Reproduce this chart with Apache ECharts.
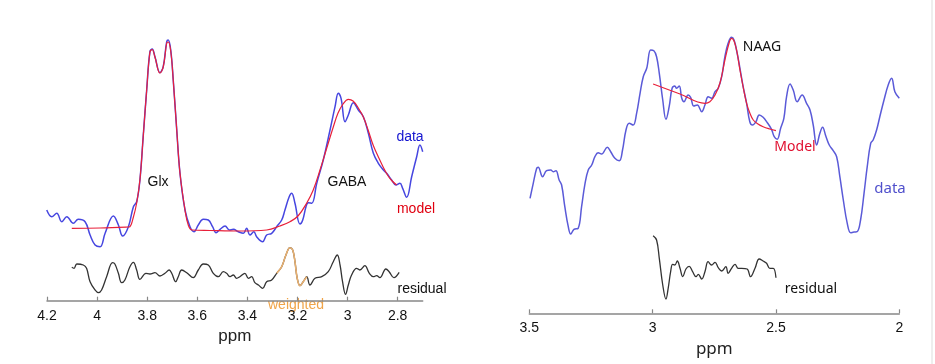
<!DOCTYPE html>
<html>
<head>
<meta charset="utf-8">
<script src="https://cdn.jsdelivr.net/npm/echarts@6/dist/echarts.min.js"></script>
<style>
  html, body { margin: 0; padding: 0; background: #fff; }
  #chart { width: 935px; height: 364px; }
</style>
</head>
<body>
<div id="chart"></div>
<script>
// 左图：Glx / GABA 拟合 (ppm, 幅值)
var leftData = [
  [4.201, 90.7], [4.181, 84], [4.161, 87.4], [4.141, 79], [4.121, 84], [4.095, 77.4],
  [4.075, 81.4], [4.048, 79], [4.028, 65.7], [4.008, 55.7], [3.988, 54], [3.968, 67.4],
  [3.935, 84.7], [3.915, 75.7], [3.898, 64.7], [3.875, 74], [3.855, 94], [3.842, 99],
  [3.829, 120.7], [3.816, 164], [3.802, 210.7], [3.789, 249], [3.780, 251.7], [3.769, 244],
  [3.749, 228], [3.736, 234], [3.722, 259], [3.716, 260.7], [3.706, 250.7], [3.696, 220.7],
  [3.682, 170.7], [3.669, 127.4], [3.649, 90.7], [3.629, 74], [3.613, 69], [3.596, 75.7],
  [3.576, 81.4], [3.556, 80.7], [3.539, 74], [3.525, 68], [3.509, 71.4], [3.489, 74.7],
  [3.472, 70.7], [3.456, 71.4], [3.436, 69], [3.416, 67.4], [3.403, 72.4], [3.390, 65.7],
  [3.374, 69], [3.363, 64], [3.339, 59], [3.323, 65.7], [3.303, 67.4], [3.283, 74],
  [3.263, 80.7], [3.250, 90.7], [3.233, 104], [3.223, 107.4], [3.210, 97.4], [3.190, 76.7],
  [3.179, 80.7], [3.166, 94], [3.157, 98], [3.143, 97.4], [3.123, 117.4], [3.097, 140.7],
  [3.070, 170.7], [3.050, 194], [3.037, 207.4], [3.026, 202.4], [3.010, 179], [2.997, 185.7],
  [2.977, 198], [2.957, 190.7], [2.937, 184], [2.917, 167.4], [2.897, 147.4], [2.877, 137.4],
  [2.857, 130.7], [2.844, 127.4], [2.824, 120.7], [2.807, 115.7], [2.791, 117.4], [2.780, 112.4],
  [2.764, 103.4], [2.744, 124], [2.724, 144], [2.711, 155.7], [2.700, 149]
];
var leftModel = [
  [4.101, 72.4], [3.988, 72.7], [3.877, 73.7], [3.869, 74], [3.855, 83.7], [3.842, 97.7],
  [3.829, 120.7], [3.816, 163.7], [3.802, 210.7], [3.789, 248.7], [3.780, 251.2], [3.769, 243.7],
  [3.749, 227.7], [3.736, 233.7], [3.722, 257.7], [3.716, 258.7], [3.706, 249.7], [3.696, 220.7],
  [3.682, 170.7], [3.669, 127.4], [3.649, 90.7], [3.636, 75.7], [3.621, 70.7], [3.549, 70.2],
  [3.430, 69.7], [3.323, 70.7], [3.270, 74.7], [3.230, 79], [3.198, 84.7], [3.163, 97.7],
  [3.137, 110.7], [3.110, 130.7], [3.083, 152.7], [3.057, 173.7], [3.038, 187.7], [3.018, 196.7],
  [2.997, 201.4], [2.978, 199.7], [2.957, 192.7], [2.937, 183.7], [2.918, 170.7], [2.898, 155.7],
  [2.877, 143.7], [2.858, 133.7], [2.838, 124.7], [2.822, 119.7], [2.804, 115.7]
];
var leftResidual = [
  [4.101, 33.4], [4.092, 32.4], [4.081, 36.7], [4.055, 35.7], [4.042, 32.4], [4.028, 19],
  [4.008, 10.7], [3.995, 8], [3.982, 10.7], [3.962, 24], [3.938, 38], [3.929, 36.7],
  [3.915, 27.4], [3.902, 18], [3.889, 20.7], [3.869, 34], [3.855, 38.4], [3.842, 30.7],
  [3.829, 21.4], [3.805, 27.4], [3.789, 26.7], [3.769, 28], [3.749, 24.7], [3.729, 27.4],
  [3.712, 30.7], [3.702, 27.4], [3.686, 19], [3.676, 24], [3.662, 30.7], [3.642, 28],
  [3.616, 23], [3.596, 30.7], [3.576, 36.7], [3.556, 35.7], [3.536, 27.4], [3.516, 24],
  [3.496, 29], [3.483, 27.4], [3.469, 24], [3.456, 25.7], [3.443, 22.4], [3.430, 24],
  [3.410, 27.4], [3.396, 22.4], [3.383, 24], [3.370, 18], [3.356, 15.7], [3.339, 12.4],
  [3.323, 19], [3.303, 20.7], [3.283, 27.4], [3.263, 34], [3.246, 45.7], [3.230, 53],
  [3.219, 50.7], [3.210, 39], [3.201, 22.4], [3.190, 15], [3.177, 19], [3.163, 24],
  [3.150, 15.7], [3.130, 22.4], [3.103, 24], [3.077, 29], [3.057, 39], [3.041, 45.7],
  [3.030, 35.7], [3.020, 19], [3.008, 6.4], [2.997, 15.7], [2.984, 25.7], [2.964, 32.4],
  [2.951, 30.7], [2.931, 35], [2.913, 27.4], [2.897, 24], [2.884, 25], [2.871, 23],
  [2.847, 31.7], [2.834, 29], [2.815, 23], [2.794, 28.4]
];
var leftWeighted = [
  [3.283, 27.4], [3.263, 34], [3.246, 45.7], [3.230, 53], [3.219, 50.7], [3.210, 39],
  [3.201, 22.4], [3.190, 15], [3.177, 19], [3.163, 24]
];
var leftTicks = [4.2, 4, 3.8, 3.6, 3.4, 3.2, 3, 2.8];

// 右图：NAAG 拟合
var rightData = [
  [3.497, 115], [3.484, 130], [3.470, 145], [3.464, 146], [3.446, 136.6], [3.430, 142.6],
  [3.413, 143.3], [3.403, 141.6], [3.392, 142.6], [3.379, 133.3], [3.369, 128.3], [3.356, 106.6],
  [3.342, 86.6], [3.332, 79.3], [3.319, 84], [3.302, 85], [3.288, 106.6], [3.274, 130],
  [3.261, 143.3], [3.247, 148.3], [3.234, 156.6], [3.221, 160.6], [3.207, 159.3], [3.184, 166],
  [3.170, 161.6], [3.153, 155], [3.135, 152.6], [3.122, 163.3], [3.108, 183.3], [3.095, 190],
  [3.079, 188.3], [3.065, 200], [3.051, 220], [3.038, 236.6], [3.024, 245], [3.008, 263.3],
  [2.995, 262.6], [2.984, 256.6], [2.973, 240], [2.959, 213.3], [2.946, 194], [2.933, 206.6],
  [2.921, 225], [2.910, 227.3], [2.903, 225], [2.892, 227.3], [2.882, 215], [2.873, 211.6],
  [2.856, 218.3], [2.846, 216], [2.833, 207.3], [2.819, 208.3], [2.801, 201.6], [2.788, 208.3],
  [2.775, 216.6], [2.761, 215], [2.747, 221.6], [2.734, 225], [2.720, 236.6], [2.707, 256.6],
  [2.694, 270], [2.680, 276], [2.670, 273.3], [2.660, 263.3], [2.646, 245], [2.633, 226.6],
  [2.619, 210], [2.606, 191.6], [2.595, 188.3], [2.581, 191.6], [2.568, 198.3], [2.552, 196],
  [2.535, 190.6], [2.518, 184], [2.507, 176.6], [2.495, 174], [2.481, 185], [2.468, 195],
  [2.457, 216.6], [2.443, 229.3], [2.430, 223.3], [2.414, 211.6], [2.394, 218.3], [2.376, 210],
  [2.362, 203.3], [2.349, 188.3], [2.335, 168.3], [2.322, 180], [2.311, 186], [2.298, 177.3],
  [2.284, 168.3], [2.268, 162.6], [2.254, 156.6], [2.241, 136.6], [2.227, 113.3], [2.211, 90],
  [2.197, 80.6], [2.184, 81.3], [2.171, 81.6], [2.157, 93.3], [2.143, 120], [2.130, 146.6],
  [2.116, 170], [2.106, 173.3], [2.092, 183.3], [2.079, 196.6], [2.062, 213.3], [2.045, 228.3],
  [2.031, 235], [2.018, 221.6], [2.000, 215]
];
var rightModel = [
  [2.998, 229.3], [2.889, 219.3], [2.788, 210], [2.768, 211.6], [2.747, 218.3], [2.727, 230.3],
  [2.707, 253.3], [2.690, 270.3], [2.680, 275], [2.670, 272.3], [2.658, 261.3], [2.646, 243.3],
  [2.633, 226.3], [2.619, 210], [2.606, 200.3], [2.592, 193.3], [2.573, 189.3], [2.552, 186.6],
  [2.525, 184.3], [2.500, 182.6]
];
var rightResidual = [
  [2.998, 77.6], [2.984, 73.3], [2.973, 55], [2.959, 28.3], [2.946, 14.3], [2.937, 25],
  [2.927, 41.6], [2.919, 49], [2.910, 48.3], [2.900, 52.3], [2.889, 45], [2.878, 36.6],
  [2.865, 44.3], [2.852, 47], [2.838, 41.6], [2.824, 36.6], [2.815, 39], [2.801, 34.3],
  [2.788, 41.6], [2.775, 51.6], [2.761, 48.3], [2.747, 51], [2.734, 45.6], [2.720, 42.3],
  [2.703, 46.6], [2.694, 40], [2.680, 45], [2.666, 49], [2.653, 45], [2.639, 45],
  [2.617, 44.3], [2.603, 36.6], [2.585, 45], [2.568, 54.3], [2.552, 52.3], [2.538, 50],
  [2.525, 45], [2.511, 45], [2.500, 35.6]
];

var axisCommon = {
  type: 'value',
  inverse: true,
  axisLine: { show: true, lineStyle: { color: '#888', width: 1.5 } },
  axisTick: { show: true, inside: true, length: 4, lineStyle: { color: '#888', width: 1.2 } },
  splitLine: { show: false },
  nameLocation: 'middle',
  nameGap: 24
};

var option = {
  animation: false,
  backgroundColor: '#fff',
  grid: [
    { left: 47, right: 512.3, top: 0, bottom: 63.3 },
    { left: 529.3, right: 35.7, top: 0, bottom: 50.7 }
  ],
  xAxis: [
    Object.assign({}, axisCommon, {
      gridIndex: 0, min: 2.7, max: 4.2,
      name: 'ppm',
      nameTextStyle: { color: '#222', fontSize: 17, fontFamily: 'Liberation Sans' },
      axisTick: Object.assign({}, axisCommon.axisTick, { customValues: leftTicks }),
      axisLabel: { customValues: leftTicks, color: '#111', fontSize: 14, margin: 8, fontFamily: 'Liberation Sans' }
    }),
    Object.assign({}, axisCommon, {
      gridIndex: 1, min: 2, max: 3.5, interval: 0.5,
      name: 'ppm',
      nameTextStyle: { color: '#222', fontSize: 17, fontFamily: 'Noto Sans' },
      axisLabel: { color: '#111', fontSize: 14, margin: 8, fontFamily: 'Liberation Sans' }
    })
  ],
  yAxis: [
    { type: 'value', gridIndex: 0, min: 0, max: 300.7, show: false },
    { type: 'value', gridIndex: 1, min: 0, max: 313.3, show: false }
  ],
  series: [
    { name: 'data', type: 'line', xAxisIndex: 0, yAxisIndex: 0, data: leftData, smooth: 0.4,
      showSymbol: false, lineStyle: { color: '#4646e0', width: 1.5 } },
    { name: 'model', type: 'line', xAxisIndex: 0, yAxisIndex: 0, data: leftModel, smooth: 0.4,
      showSymbol: false, lineStyle: { color: '#e8203a', width: 1.2 } },
    { name: 'residual', type: 'line', xAxisIndex: 0, yAxisIndex: 0, data: leftResidual, smooth: 0.4,
      showSymbol: false, lineStyle: { color: '#333', width: 1.3 } },
    { name: 'weighted', type: 'line', xAxisIndex: 0, yAxisIndex: 0, data: leftWeighted, smooth: 0.4,
      showSymbol: false, lineStyle: { color: '#e8b070', width: 1.6 } },
    { name: 'data2', type: 'line', xAxisIndex: 1, yAxisIndex: 1, data: rightData, smooth: 0.4,
      showSymbol: false, lineStyle: { color: '#5a5ad8', width: 1.5 } },
    { name: 'model2', type: 'line', xAxisIndex: 1, yAxisIndex: 1, data: rightModel, smooth: 0.4,
      showSymbol: false, lineStyle: { color: '#e8203a', width: 1.2 } },
    { name: 'residual2', type: 'line', xAxisIndex: 1, yAxisIndex: 1, data: rightResidual, smooth: 0.4,
      showSymbol: false, lineStyle: { color: '#333', width: 1.3 } }
  ],
  graphic: [
    { type: 'line', shape: { x1: 932, y1: 0, x2: 932, y2: 364 }, style: { stroke: '#eee', lineWidth: 2 } },
    { type: 'text', x: 158, y: 182, style: { text: 'Glx', fill: '#111', font: '14px "Liberation Sans"', textAlign: 'center', textVerticalAlign: 'middle' } },
    { type: 'text', x: 347, y: 182, style: { text: 'GABA', fill: '#111', font: '14px "Liberation Sans"', textAlign: 'center', textVerticalAlign: 'middle' } },
    { type: 'text', x: 410, y: 137, style: { text: 'data', fill: '#1515d0', font: '14px "Liberation Sans"', textAlign: 'center', textVerticalAlign: 'middle' } },
    { type: 'text', x: 416, y: 209, style: { text: 'model', fill: '#e00010', font: '14px "Liberation Sans"', textAlign: 'center', textVerticalAlign: 'middle' } },
    { type: 'text', x: 422, y: 289, style: { text: 'residual', fill: '#111', font: '14px "Liberation Sans"', textAlign: 'center', textVerticalAlign: 'middle' } },
    { type: 'text', x: 296, y: 305, style: { text: 'weighted', fill: '#f0a448', font: '14px "Liberation Sans"', textAlign: 'center', textVerticalAlign: 'middle' } },
    { type: 'text', x: 762, y: 47, style: { text: 'NAAG', fill: '#111', font: '14px "Noto Sans"', textAlign: 'center', textVerticalAlign: 'middle' } },
    { type: 'text', x: 795, y: 147, style: { text: 'Model', fill: '#e01030', font: '14px "Noto Sans"', textAlign: 'center', textVerticalAlign: 'middle' } },
    { type: 'text', x: 890, y: 189, style: { text: 'data', fill: '#5050cc', font: '15px "Noto Sans"', textAlign: 'center', textVerticalAlign: 'middle' } },
    { type: 'text', x: 811, y: 289, style: { text: 'residual', fill: '#111', font: '14px "Noto Sans"', textAlign: 'center', textVerticalAlign: 'middle' } }
  ]
};

var chartObj = echarts.init(document.getElementById('chart'));
chartObj.setOption(option);
window.addEventListener('resize', function () {
  chartObj.resize();
});
</script>
</body>
</html>
